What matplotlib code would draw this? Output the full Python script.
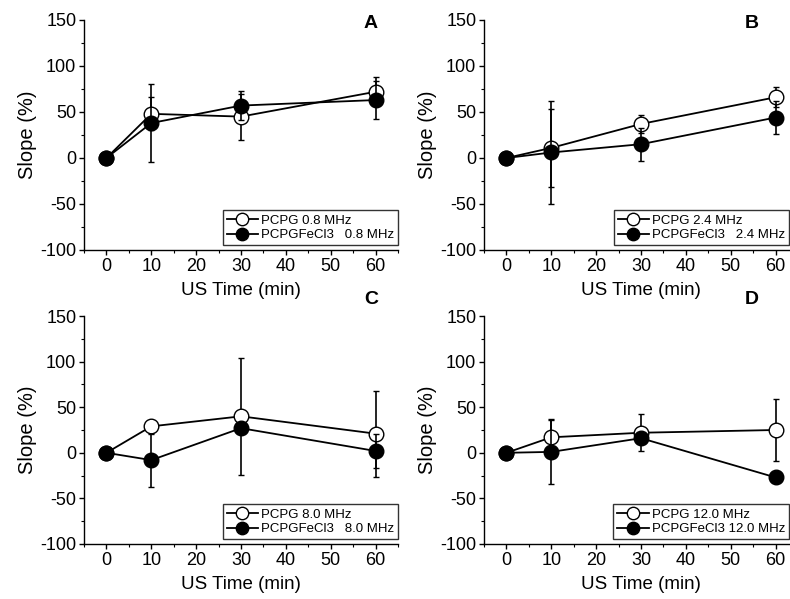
import matplotlib
matplotlib.use("Agg")
import matplotlib.pyplot as plt
from matplotlib.ticker import MultipleLocator
from matplotlib.lines import Line2D

plt.rcParams['font.family'] = ['Liberation Sans', 'DejaVu Sans']
plt.rcParams['axes.unicode_minus'] = False

time = [0, 10, 30, 60]

# Panel A (0.8 MHz)
a_open = [0, 48, 45, 72]
a_open_err = [0, 18, 25, 16]
a_fill = [0, 38, 57, 63]
a_fill_err = [0, 42, 16, 21]

# Panel B (2.4 MHz)
b_open = [0, 11, 37, 66]
b_open_err = [0, 42, 10, 11]
b_fill = [0, 6, 15, 44]
b_fill_err = [0, 56, 18, 18]

# Panel C (8.0 MHz)
c_open = [0, 29, 40, 21]
c_open_err = [0, 7, 64, 47]
c_fill = [0, -8, 27, 2]
c_fill_err = [0, 29, 5, 19]

# Panel D (12.0 MHz)
d_open = [0, 17, 22, 25]
d_open_err = [0, 20, 20, 34]
d_fill = [0, 1, 16, -27]
d_fill_err = [0, 35, 5, 3]

open_labels = ["PCPG 0.8 MHz", "PCPG 2.4 MHz", "PCPG 8.0 MHz", "PCPG 12.0 MHz"]
fill_labels = ["PCPGFeCl3   0.8 MHz", "PCPGFeCl3   2.4 MHz",
               "PCPGFeCl3   8.0 MHz", "PCPGFeCl3 12.0 MHz"]
letters = ["A", "B", "C", "D"]
xticks = [0, 10, 20, 30, 40, 50, 60]
yticks = [-100, -50, 0, 50, 100, 150]

W, H = 790, 599
fig = plt.figure(figsize=(W / 100, H / 100), dpi=100)

# axes boxes in pixels: left, top, right, bottom
boxes = [(84, 20, 398, 250), (484, 20, 798, 250),
         (84, 316, 398, 544), (484, 316, 798, 544)]
letter_pos = [(371, 23), (752, 23), (371, 299), (752, 299)]

data = [(a_open, a_open_err, a_fill, a_fill_err),
        (b_open, b_open_err, b_fill, b_fill_err),
        (c_open, c_open_err, c_fill, c_fill_err),
        (d_open, d_open_err, d_fill, d_fill_err)]

MS = 10.5
for i, (box, d) in enumerate(zip(boxes, data)):
    l, t, r, b = box
    ax = fig.add_axes([l / W, 1 - b / H, (r - l) / W, (b - t) / H])
    o, oe, f, fe = d
    ax.errorbar(time, o, yerr=oe, fmt='-o', color='black', mfc='white',
                mec='black', ms=MS, mew=1.0, lw=1.3, elinewidth=1.2,
                capsize=2.5, capthick=1.2, zorder=3)
    ax.errorbar(time, f, yerr=fe, fmt='-o', color='black', mfc='black',
                mec='black', ms=MS, mew=1.0, lw=1.3, elinewidth=1.2,
                capsize=2.5, capthick=1.2, zorder=4)
    ax.set_xlim(-5, 65)
    ax.set_ylim(-100, 150)
    ax.set_xticks(xticks)
    ax.set_yticks(yticks)
    ax.xaxis.set_minor_locator(MultipleLocator(5))
    ax.yaxis.set_minor_locator(MultipleLocator(25))
    ax.spines['top'].set_visible(False)
    ax.spines['right'].set_visible(False)
    for s in ('left', 'bottom'):
        ax.spines[s].set_linewidth(1.0)
    ax.tick_params(which='major', direction='out', length=3.5, width=1.0,
                   labelsize=13, pad=2)
    ax.tick_params(which='minor', direction='out', length=2.2, width=0.8)
    ax.set_xlabel("US Time (min)", fontsize=13.5, labelpad=5)
    ax.set_ylabel("Slope (%)", fontsize=14.5, labelpad=2)
    ax.set_facecolor('none')
    handles = [
        Line2D([], [], color='black', lw=1.3, marker='o', ms=MS,
               mfc='white', mec='black', mew=1.0),
        Line2D([], [], color='black', lw=1.3, marker='o', ms=MS,
               mfc='black', mec='black', mew=1.0),
    ]
    right_edge = min(r, W - 1)
    anchor = ((right_edge - l) / (r - l), 0.02)
    leg = ax.legend(handles, [open_labels[i], fill_labels[i]],
                    loc='lower right', bbox_to_anchor=anchor, fontsize=9.5,
                    frameon=True, fancybox=False, edgecolor='black',
                    borderpad=0.3, handlelength=2.4, handletextpad=0.2,
                    labelspacing=0.2, borderaxespad=0.0, markerscale=0.85)
    leg.get_frame().set_linewidth(1.0)
    fig.text(letter_pos[i][0] / W, 1 - letter_pos[i][1] / H, letters[i],
             fontsize=14, fontweight='bold', ha='center', va='center')

fig.savefig("out.png", dpi=100)
